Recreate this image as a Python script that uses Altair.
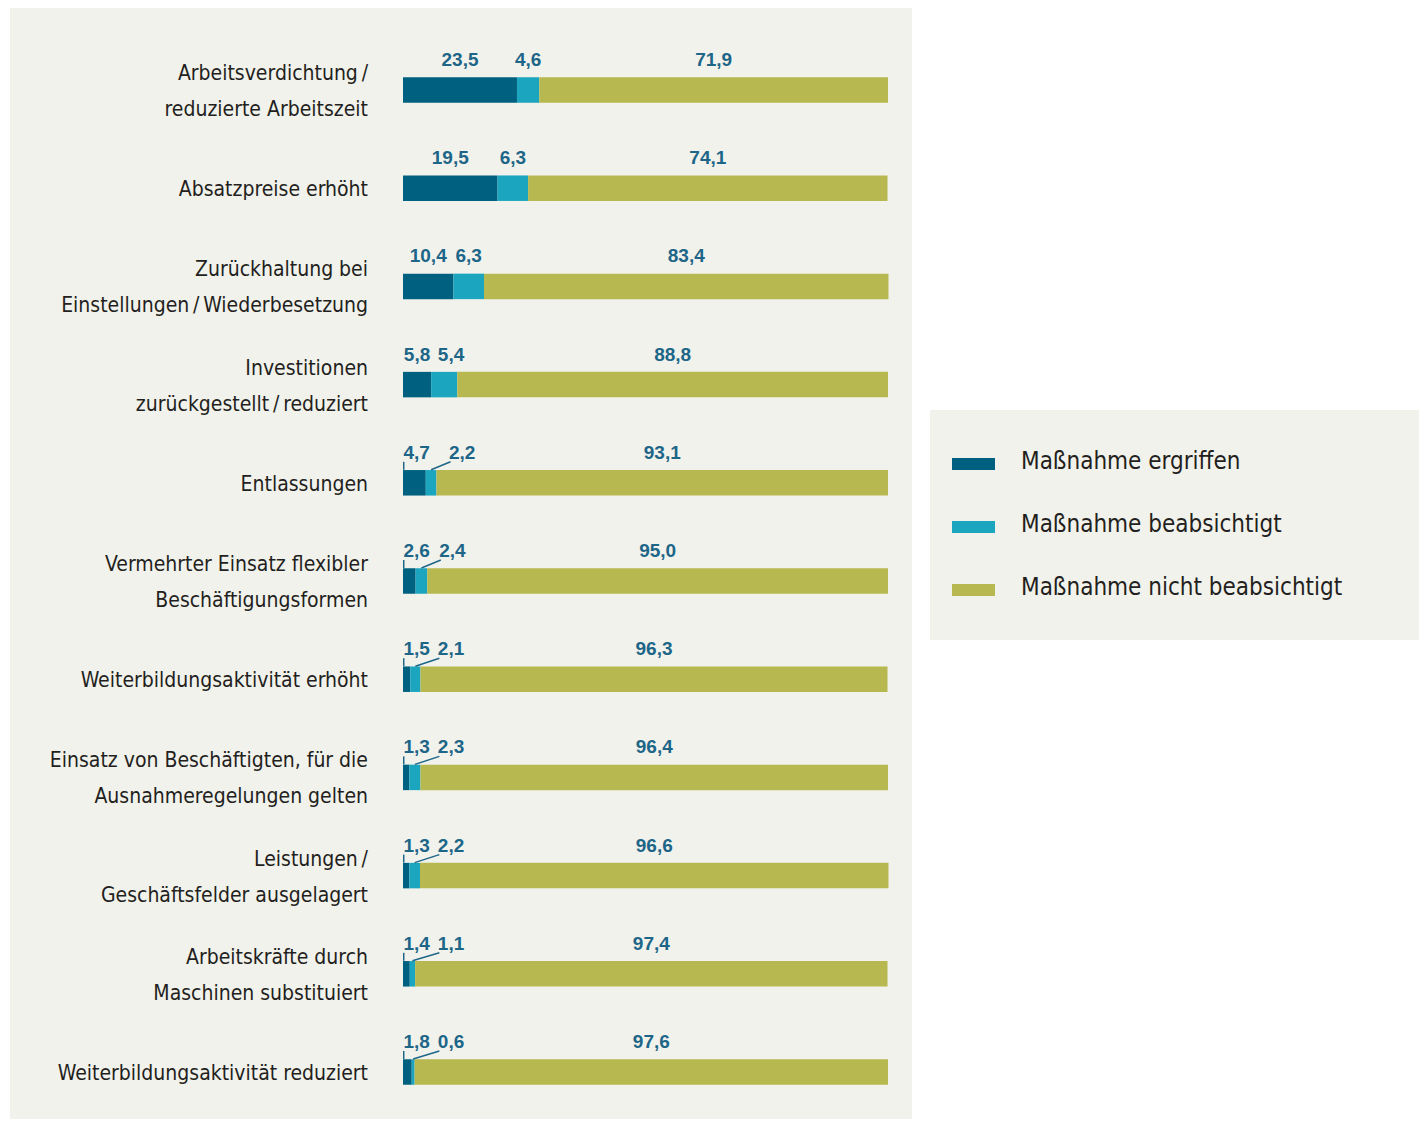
import altair as alt
import pandas as pd

# ---------------- data ----------------
categories = [
    "Arbeitsverdichtung\u2009/\nreduzierte Arbeitszeit",
    "Absatzpreise erhöht",
    "Zurückhaltung bei\nEinstellungen\u2009/\u2009Wiederbesetzung",
    "Investitionen\nzurückgestellt\u2009/\u2009reduziert",
    "Entlassungen",
    "Vermehrter Einsatz flexibler\nBeschäftigungsformen",
    "Weiterbildungsaktivität erhöht",
    "Einsatz von Beschäftigten, für die\nAusnahmeregelungen gelten",
    "Leistungen\u2009/\nGeschäftsfelder ausgelagert",
    "Arbeitskräfte durch\nMaschinen substituiert",
    "Weiterbildungsaktivität reduziert",
]
ergriffen = [23.5, 19.5, 10.4, 5.8, 4.7, 2.6, 1.5, 1.3, 1.3, 1.4, 1.8]
beabsichtigt = [4.6, 6.3, 6.3, 5.4, 2.2, 2.4, 2.1, 2.3, 2.2, 1.1, 0.6]
nicht = [71.9, 74.1, 83.4, 88.8, 93.1, 95.0, 96.3, 96.4, 96.6, 97.4, 97.6]

series = ["Maßnahme ergriffen", "Maßnahme beabsichtigt", "Maßnahme nicht beabsichtigt"]
colors = ["#00607f", "#1ba5bf", "#b7b84f"]

LABEL_COLOR = "#1d6688"
TEXT_COLOR = "#231f20"
PANEL = "#f2f2ec"
CAT_FONT = "Liberation Sans Narrow, DejaVu Sans Condensed, Roboto, sans-serif"
NUM_FONT = "Liberation Sans, Roboto, sans-serif"


def fmt(v):
    return f"{v:.1f}".replace(".", ",")


bar_rows, lab_rows, lead_rows, cat_rows = [], [], [], []
for i, cat in enumerate(categories):
    e, b, n = ergriffen[i], beabsichtigt[i], nicht[i]
    vals = [e, b, n]
    start = 0.0
    for s, v in zip(series, vals):
        bar_rows.append({"row": i, "series": s, "start": start, "end": start + v})
        start += v
    c1, c2, c3 = e / 2, e + b / 2, e + b + n / 2
    leader = e < 5
    if leader:
        l1 = max(c1, 2.8)
        l2 = max(c2 + 6.4, 9.9)
        lead_rows.append({"row": i, "x": 0.15, "x2": 0.15})
        lead_rows.append({"row": i, "x": c2, "x2": l2 - 2.4})
    else:
        l1 = c1
        l2 = max(c2, 9.9)
    lab_rows += [
        {"row": i, "x": l1, "text": fmt(e)},
        {"row": i, "x": l2, "text": fmt(b)},
        {"row": i, "x": c3, "text": fmt(n)},
    ]
    cat_rows.append({"row": i, "label": cat, "lines": cat.count("\n") + 1})

bars_df = pd.DataFrame(bar_rows)
labs_df = pd.DataFrame(lab_rows)
lead_df = pd.DataFrame(lead_rows)
cat_df = pd.DataFrame(cat_rows)
leg_df = pd.DataFrame({"idx": [0, 1, 2], "series": series})

xs = alt.Scale(domain=[0, 100], range=[393, 878])
ys = alt.Scale(domain=[0, 10], range=[82, 1064])
cs = alt.Scale(domain=series, range=colors)

bars = alt.Chart(bars_df).mark_rect(yOffset=-12.75, y2Offset=12.75).encode(
    x=alt.X("start:Q", scale=xs, axis=None),
    x2="end:Q",
    y=alt.Y("row:Q", scale=ys, axis=None),
    y2="row:Q",
    color=alt.Color("series:N", scale=cs, legend=None),
)

labels = alt.Chart(labs_df).mark_text(
    font=NUM_FONT, fontSize=19, fontWeight="bold", color=LABEL_COLOR,
    baseline="middle", align="center", dy=-30,
).encode(
    x=alt.X("x:Q", scale=xs, axis=None),
    y=alt.Y("row:Q", scale=ys, axis=None),
    text="text:N",
)

leaders = alt.Chart(lead_df).mark_rule(
    color=LABEL_COLOR, strokeWidth=1.5, yOffset=-13, y2Offset=-21,
).encode(
    x=alt.X("x:Q", scale=xs, axis=None),
    x2="x2:Q",
    y=alt.Y("row:Q", scale=ys, axis=None),
    y2="row:Q",
)


def cat_layer(nlines, dy):
    return alt.Chart(cat_df).transform_filter(
        alt.datum.lines == nlines
    ).mark_text(
        font=CAT_FONT, fontSize=21, color=TEXT_COLOR, align="right",
        baseline="middle", lineBreak="\n", lineHeight=36, dy=dy,
    ).encode(
        x=alt.value(358),
        y=alt.Y("row:Q", scale=ys, axis=None),
        text="label:N",
    )


cats1 = cat_layer(1, 2)
cats2 = cat_layer(2, -16)

panel = alt.layer(bars, leaders, labels, cats1, cats2).properties(
    width=902, height=1111, view=alt.ViewBackground(fill=PANEL, stroke=None)
)

# legend box
lys = alt.Scale(domain=[0, 2], range=[54, 180])
swatch = alt.Chart(leg_df).mark_rect(yOffset=-6, y2Offset=6).encode(
    x=alt.value(22), x2=alt.value(65),
    y=alt.Y("idx:Q", scale=lys, axis=None), y2="idx:Q",
    color=alt.Color("series:N", scale=cs, legend=None),
)
legtext = alt.Chart(leg_df).mark_text(
    font=CAT_FONT, fontSize=24, color=TEXT_COLOR, align="left",
    baseline="middle", dy=-2,
).encode(
    x=alt.value(91),
    y=alt.Y("idx:Q", scale=lys, axis=None),
    text="series:N",
)
legend = alt.layer(swatch, legtext).properties(
    width=489, height=230, view=alt.ViewBackground(fill=PANEL, stroke=None)
)
spacer = alt.Chart(leg_df).mark_text(text="").encode(
    x=alt.value(10), y=alt.value(10)
).properties(width=489, height=402, view=alt.ViewBackground(fill=None, stroke=None))

right = alt.vconcat(spacer, legend, spacing=0)

chart = alt.hconcat(panel, right, spacing=18).properties(
    padding={"left": 2, "top": 0, "right": 0, "bottom": 0},
    background="white",
).configure_view(stroke=None)

chart.save("out.html", embed_options={"renderer": "svg", "actions": False})
